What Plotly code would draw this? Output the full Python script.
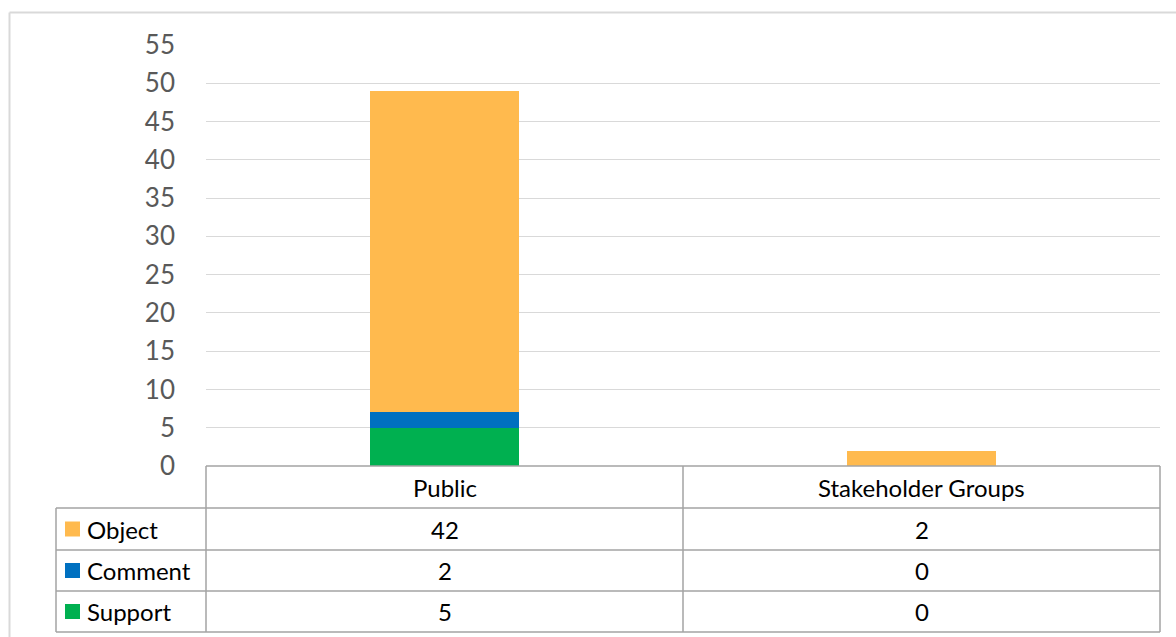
import plotly.graph_objects as go

# Data
categories = ["Public", "Stakeholder Groups"]
series_names = ["Object", "Comment", "Support"]
object_vals = [42, 2]
comment_vals = [2, 0]
support_vals = [5, 0]
y_ticks = [0, 5, 10, 15, 20, 25, 30, 35, 40, 45, 50, 55]

colors = {"Object": "#FFBA4E", "Comment": "#0070C0", "Support": "#00B050"}
series_vals = {"Object": object_vals, "Comment": comment_vals, "Support": support_vals}

W, H = 1176, 637
FONT = "Lato, Calibri, 'Liberation Sans', sans-serif"


def px(x):
    return min(max(x / W, 0), 1)


def py(y):
    return min(max(1 - y / H, 0), 1)


# plot area in pixels
PL, PR, PT, PB = 206, 1160, 45, 466
TABLE_LEFT = 56
ROW_LINES = [466, 508, 550, 591, 632]

fig = go.Figure()

# stacked bars, bottom to top
for name in ["Support", "Comment", "Object"]:
    fig.add_trace(go.Bar(
        x=categories,
        y=series_vals[name],
        name=name,
        marker=dict(color=colors[name], line=dict(width=0)),
        width=0.314,
        showlegend=False,
        hoverinfo="x+y+name",
    ))

shapes = []
line_col = "#A3A3A3"
# outer chart frame
shapes.append(dict(type="line", xref="paper", yref="paper", x0=px(9.5), x1=px(W),
                   y0=py(12.5), y1=py(12.5), line=dict(color="#D9D9D9", width=2)))
shapes.append(dict(type="line", xref="paper", yref="paper", x0=px(9.5), x1=px(9.5),
                   y0=py(12.5), y1=py(H), line=dict(color="#D9D9D9", width=2)))

# data table grid
# header row top (spans plot width only)
shapes.append(dict(type="line", xref="paper", yref="paper", x0=px(PL), x1=px(PR),
                   y0=py(ROW_LINES[0]), y1=py(ROW_LINES[0]), line=dict(color=line_col, width=1.5)))
for yl in ROW_LINES[1:]:
    shapes.append(dict(type="line", xref="paper", yref="paper", x0=px(TABLE_LEFT), x1=px(PR),
                       y0=py(yl), y1=py(yl), line=dict(color=line_col, width=1.5)))
# vertical lines
mid_x = (PL + PR) / 2
for xv, ytop in [(TABLE_LEFT, ROW_LINES[1]), (PL, ROW_LINES[0]), (mid_x, ROW_LINES[0]), (PR, ROW_LINES[0])]:
    shapes.append(dict(type="line", xref="paper", yref="paper", x0=px(xv), x1=px(xv),
                       y0=py(ytop), y1=py(ROW_LINES[-1]), line=dict(color=line_col, width=1.5)))

annotations = []
# column headers
for cat in categories:
    annotations.append(dict(x=cat, xref="x", y=py((ROW_LINES[0] + ROW_LINES[1]) / 2), yref="paper",
                            text=cat, showarrow=False, xanchor="center", yanchor="middle",
                            font=dict(family=FONT, size=24, color="#000000")))

# rows: legend key, label, values
for i, name in enumerate(series_names):
    yc = (ROW_LINES[i + 1] + ROW_LINES[i + 2]) / 2
    shapes.append(dict(type="rect", xref="paper", yref="paper", x0=px(65), x1=px(80),
                       y0=py(yc - 7.5), y1=py(yc + 7.5), fillcolor=colors[name], line=dict(width=0)))
    annotations.append(dict(x=px(85), xref="paper", y=py(yc), yref="paper", text=name,
                            showarrow=False, xanchor="left", yanchor="middle",
                            font=dict(family=FONT, size=24, color="#000000")))
    for cat, v in zip(categories, series_vals[name]):
        annotations.append(dict(x=cat, xref="x", y=py(yc), yref="paper", text=str(v),
                                showarrow=False, xanchor="center", yanchor="middle",
                                font=dict(family=FONT, size=24, color="#000000")))

fig.update_layout(
    width=W, height=H,
    margin=dict(l=0, r=0, t=0, b=0, autoexpand=False),
    paper_bgcolor="white", plot_bgcolor="white",
    barmode="stack",
    xaxis=dict(domain=[px(PL), px(PR)], range=[-0.5, 1.5], showticklabels=False,
               showgrid=False, zeroline=False, showline=False, ticks="", automargin=False),
    yaxis=dict(domain=[py(PB), py(PT)], range=[0, 55], tickvals=y_ticks,
               showgrid=True, gridcolor="#D9D9D9", gridwidth=1.3, zeroline=False,
               showline=False, ticks="", ticklabelstandoff=30, automargin=False,
               tickfont=dict(family=FONT, size=26, color="#595959")),
    shapes=shapes,
    annotations=annotations,
)

fig.write_html("out.html")
